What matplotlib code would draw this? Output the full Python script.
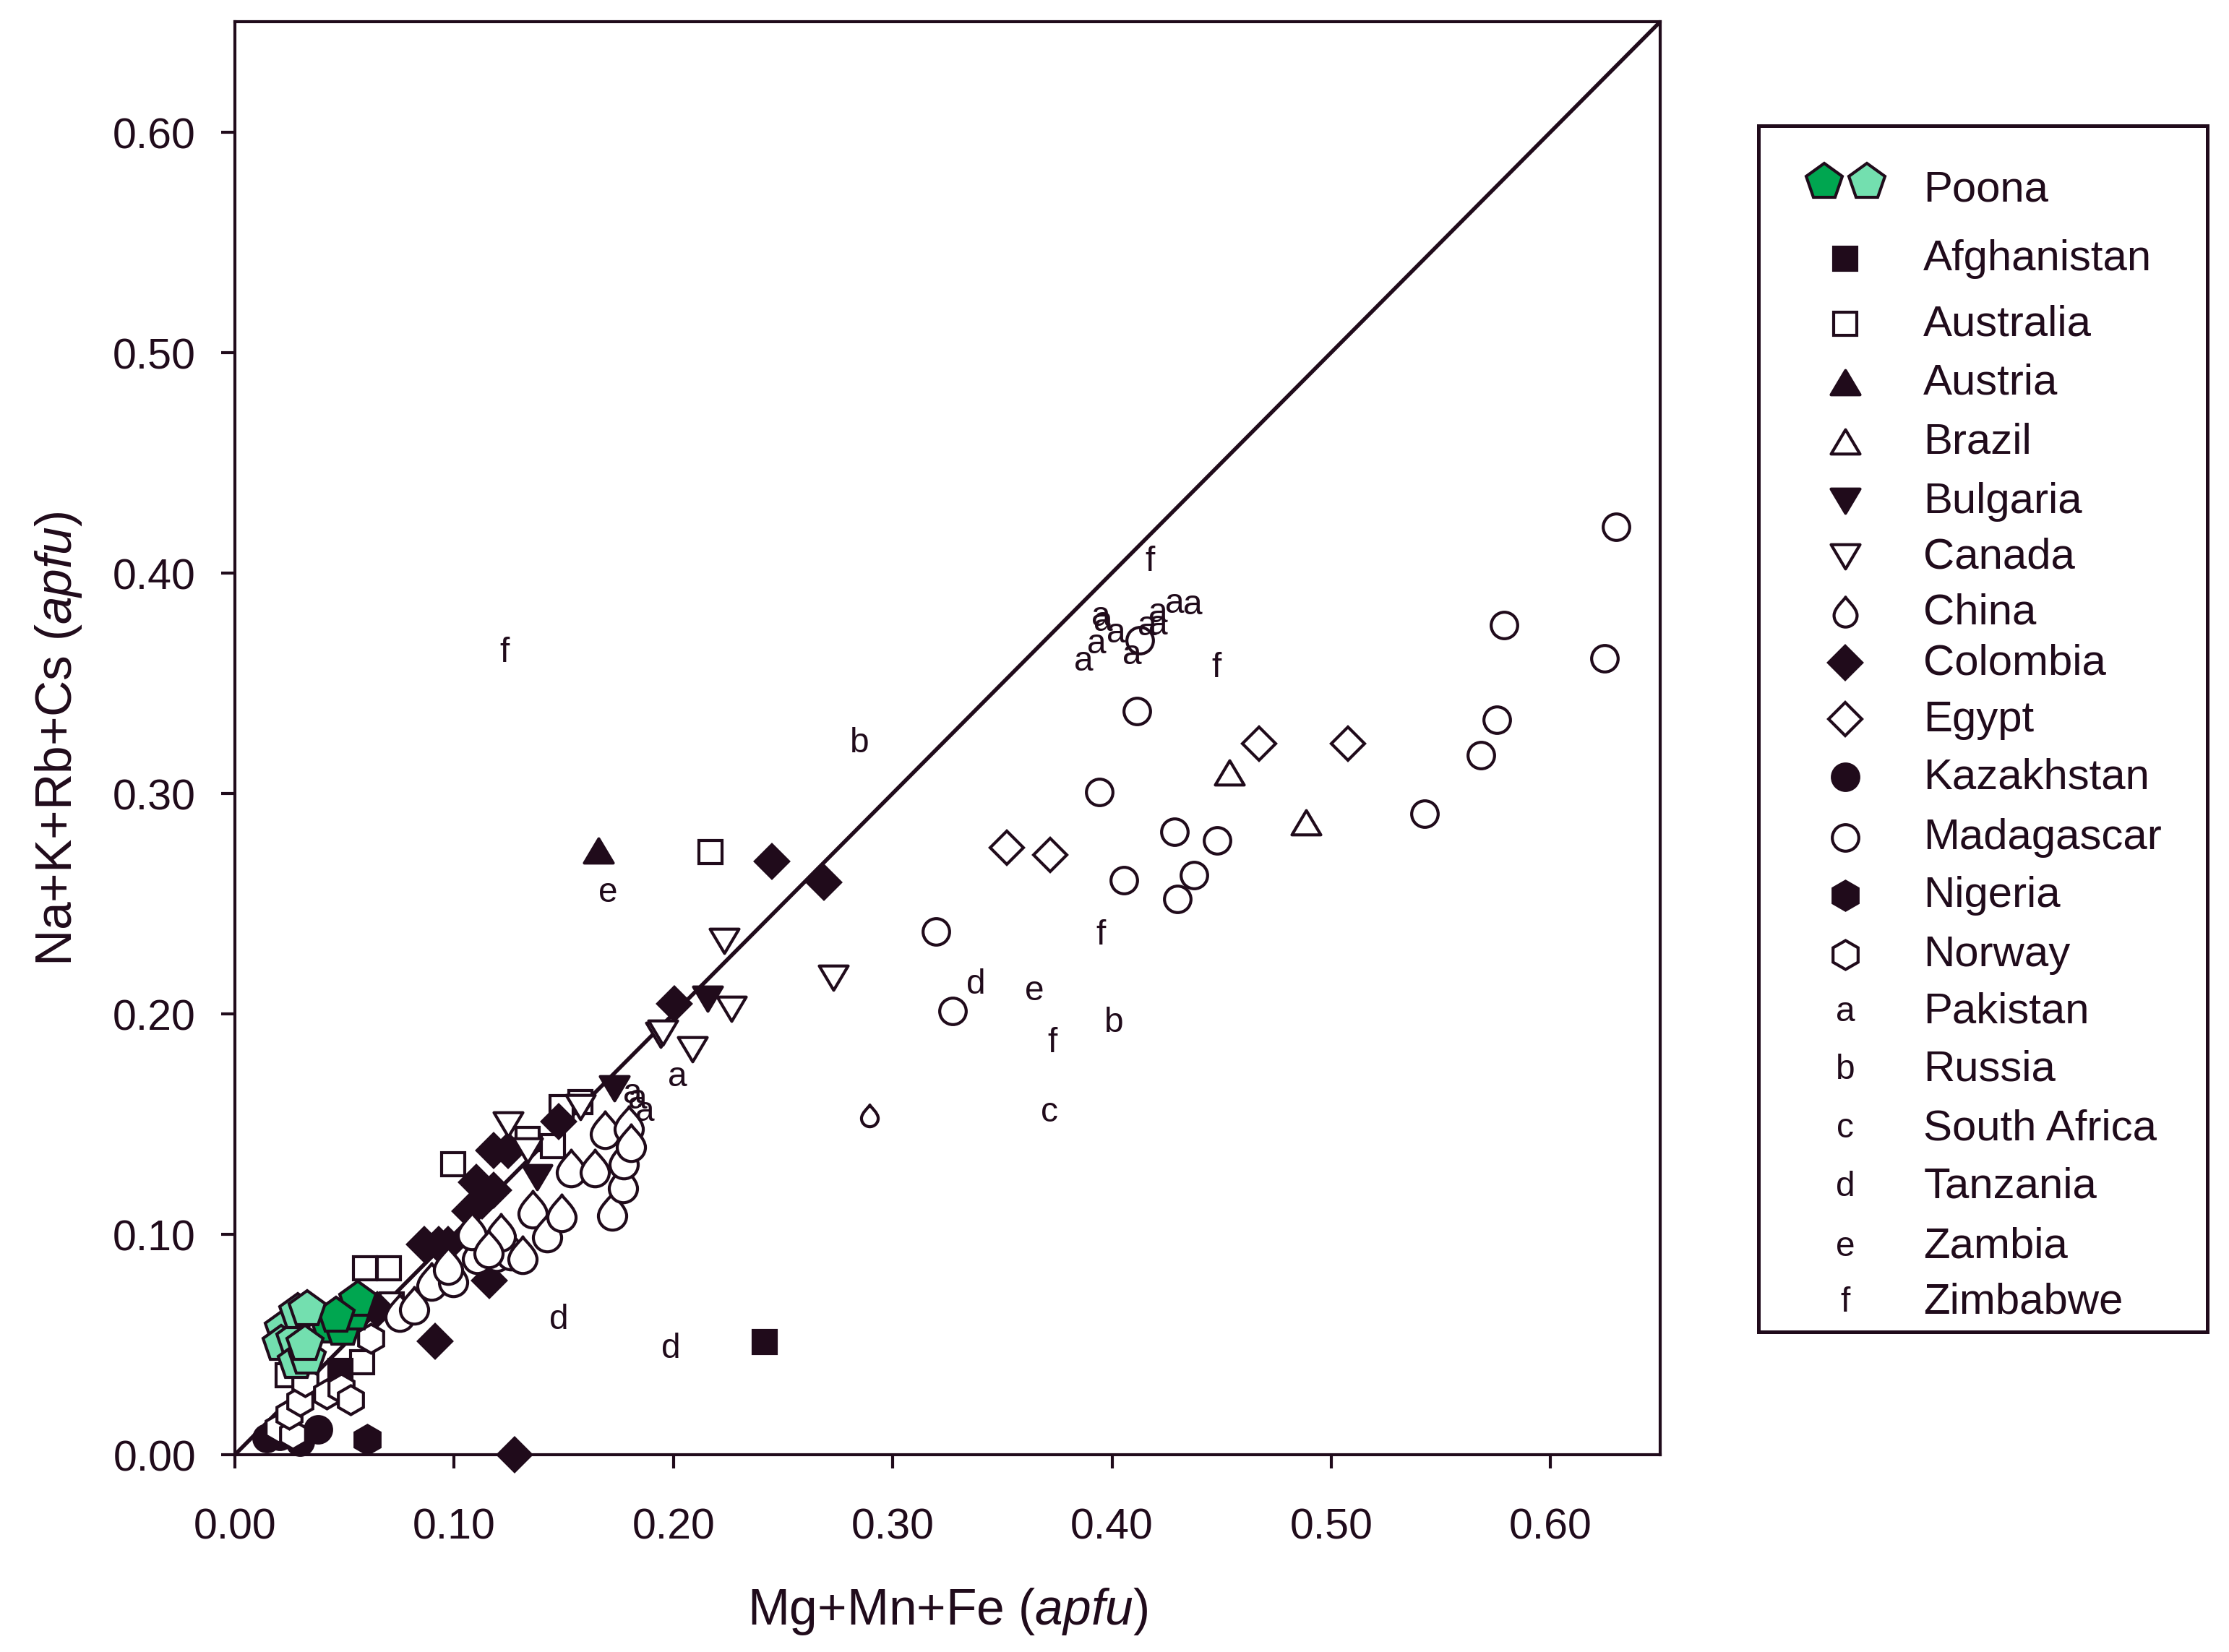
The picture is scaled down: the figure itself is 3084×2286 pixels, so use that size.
import matplotlib.pyplot as plt
from matplotlib.path import Path
from matplotlib.markers import MarkerStyle

plt.rcParams['font.family'] = ['Liberation Sans', 'DejaVu Sans']
plt.rcParams['mathtext.fontset'] = 'custom'
plt.rcParams['mathtext.rm'] = 'Liberation Sans'
plt.rcParams['mathtext.it'] = 'Liberation Sans:italic'

INK = '#200b1b'
DARK_GREEN = '#00a650'
LIGHT_GREEN = '#73dfaf'

# ---- data (apfu) ----
poona_dark_x = [0.043, 0.049, 0.054, 0.056, 0.046]
poona_dark_y = [0.058, 0.057, 0.064, 0.070, 0.063]
poona_light_x = [0.022, 0.021, 0.0275, 0.0286, 0.033, 0.028, 0.033, 0.032]
poona_light_y = [0.057, 0.050, 0.052, 0.0647, 0.066, 0.042, 0.044, 0.050]

afghanistan_x = [0.2415, 0.048]
afghanistan_y = [0.051, 0.038]
australia_x = [0.2168, 0.0996, 0.0593, 0.0703, 0.0714, 0.058, 0.024, 0.145, 0.1576, 0.149, 0.1335]
australia_y = [0.2734, 0.1317, 0.0844, 0.0844, 0.068, 0.042, 0.036, 0.140, 0.160, 0.1575, 0.1433]
austria_x = [0.1658]
austria_y = [0.274]
brazil_x = [0.4535, 0.4884]
brazil_y = [0.3096, 0.2867]
bulgaria_x = [0.2157, 0.1730, 0.1378]
bulgaria_y = [0.2067, 0.1663, 0.1259]
canada_x = [0.2233, 0.2730, 0.2266, 0.2087, 0.1941, 0.1950, 0.1577, 0.1247, 0.1336]
canada_y = [0.2329, 0.2165, 0.2023, 0.1838, 0.1903, 0.1915, 0.1575, 0.1499, 0.1380]
china_x = [0.0753, 0.0818, 0.0895, 0.0994, 0.1104, 0.1082, 0.1192, 0.1258, 0.1313, 0.1357,
           0.1423, 0.1489, 0.1533, 0.1642, 0.1686, 0.1719, 0.1769, 0.1774, 0.1796, 0.1807,
           0.1213, 0.0972, 0.1158, 0.2893]
china_y = [0.0641, 0.0674, 0.0783, 0.0800, 0.0904, 0.1013, 0.0914, 0.0920, 0.0904, 0.1111,
           0.1002, 0.1095, 0.1297, 0.1297, 0.1472, 0.1100, 0.1226, 0.1335, 0.1494, 0.1412,
           0.1007, 0.0854, 0.0931, 0.1537]
china_size = [12.5] * 23 + [7.4]
colombia_x = [0.2450, 0.2687, 0.2005, 0.1478, 0.1180, 0.1247, 0.1100, 0.1126, 0.1180, 0.1070,
              0.0862, 0.0928, 0.0972, 0.1159, 0.0912, 0.1275, 0.065]
colombia_y = [0.2690, 0.2597, 0.2045, 0.1510, 0.1380, 0.1380, 0.1237, 0.1150, 0.1200, 0.1106,
              0.0953, 0.0953, 0.0953, 0.0789, 0.0516, 0.0, 0.066]
egypt_x = [0.3519, 0.3717, 0.4671, 0.5076]
egypt_y = [0.2755, 0.2722, 0.3224, 0.3225]
kazakhstan_x = [0.0145, 0.0205, 0.0295, 0.0380]
kazakhstan_y = [0.0075, 0.0085, 0.0060, 0.0115]
madagascar_x = [0.6298, 0.5787, 0.6246, 0.5755, 0.5684, 0.5427, 0.4115, 0.3941, 0.4285, 0.4478,
                0.4375, 0.4299, 0.4054, 0.3196, 0.3273, 0.4126]
madagascar_y = [0.4208, 0.3763, 0.3611, 0.3334, 0.3174, 0.2908, 0.3373, 0.3005, 0.2826, 0.2786,
                0.2630, 0.2520, 0.2605, 0.2373, 0.2011, 0.3694]
nigeria_x = [0.0602]
nigeria_y = [0.0068]
norway_x = [0.0198, 0.0264, 0.0247, 0.0297, 0.0319, 0.0418, 0.0484, 0.0527, 0.0621]
norway_y = [0.0122, 0.0090, 0.0183, 0.0243, 0.0330, 0.0275, 0.0303, 0.0248, 0.0527]

pakistan_x = [0.387, 0.393, 0.395, 0.396, 0.402, 0.409, 0.416, 0.421, 0.421, 0.4285, 0.4367,
              0.2019, 0.1815, 0.1838, 0.1870]
pakistan_y = [0.360, 0.368, 0.3805, 0.378, 0.373, 0.363, 0.376, 0.382, 0.3766, 0.3864, 0.3858,
              0.1717, 0.1640, 0.1615, 0.1560]
russia_x = [0.2849, 0.4008]
russia_y = [0.3230, 0.1963]
south_africa_x = [0.3713]
south_africa_y = [0.1554]
tanzania_x = [0.1478, 0.1987, 0.3378]
tanzania_y = [0.0614, 0.0482, 0.2135]
zambia_x = [0.1701, 0.3648]
zambia_y = [0.2553, 0.2105]
zimbabwe_x = [0.1231, 0.4174, 0.4476, 0.3950, 0.3728]
zimbabwe_y = [0.3640, 0.4053, 0.3571, 0.2357, 0.1870]

# ---- custom marker shapes ----
drop = Path([(0, 1), (0.08, 0.8), (0.75, 0.3), (0.75, -0.2),
             (0.75, -0.614), (0.414, -0.95), (0, -0.95),
             (-0.414, -0.95), (-0.75, -0.614), (-0.75, -0.2),
             (-0.75, 0.3), (-0.08, 0.8), (0, 1), (0, 1)],
            [Path.MOVETO] + [Path.CURVE4] * 12 + [Path.CLOSEPOLY])
tri_up = Path([(0, 0.84), (-1, -0.84), (1, -0.84), (0, 0.84)], closed=True)
tri_down = Path([(0, -0.84), (-1, 0.84), (1, 0.84), (0, -0.84)], closed=True)
DROP = MarkerStyle(drop, joinstyle='miter')
UP = MarkerStyle(tri_up, joinstyle='miter')
DOWN = MarkerStyle(tri_down, joinstyle='miter')

styles = {
    'Afghanistan': dict(marker='s', ms=7.6, mfc=INK),
    'Australia': dict(marker='s', ms=7.6, mfc='white'),
    'Austria': dict(marker=UP, ms=9.6, mfc=INK),
    'Brazil': dict(marker=UP, ms=9.6, mfc='white'),
    'Bulgaria': dict(marker=DOWN, ms=9.6, mfc=INK),
    'Canada': dict(marker=DOWN, ms=9.6, mfc='white'),
    'China': dict(marker=DROP, ms=10.2, mfc='white'),
    'Colombia': dict(marker='D', ms=7.9, mfc=INK),
    'Egypt': dict(marker='D', ms=7.7, mfc='white'),
    'Kazakhstan': dict(marker='o', ms=8.8, mfc=INK),
    'Madagascar': dict(marker='o', ms=8.8, mfc='white'),
    'Nigeria': dict(marker='h', ms=9.6, mfc=INK),
    'Norway': dict(marker='h', ms=9.6, mfc='white'),
}

fig = plt.figure(figsize=(10.28, 7.6233), dpi=300)
ax = fig.add_axes([0.1054, 0.1194, 0.6394, 0.867])

ax.plot([0, 0.65], [0, 0.65], color=INK, lw=1.3, zorder=1)

def pts(name, x, y, z=3):
    ax.plot(x, y, ls='none', mec=INK, mew=1.0, zorder=z, clip_on=False, **styles[name])

pts('Australia', australia_x, australia_y)
pts('Afghanistan', afghanistan_x, afghanistan_y)
pts('Austria', austria_x, austria_y)
pts('Brazil', brazil_x, brazil_y)
pts('Colombia', colombia_x, colombia_y)
pts('Bulgaria', bulgaria_x, bulgaria_y)
pts('Canada', canada_x, canada_y)
for cx, cy, cs in zip(china_x, china_y, china_size):
    ax.plot(cx, cy, ls='none', marker=DROP, ms=cs, mfc='white', mec=INK, mew=1.0, zorder=3)
pts('Egypt', egypt_x, egypt_y)
pts('Kazakhstan', kazakhstan_x, kazakhstan_y)
pts('Madagascar', madagascar_x, madagascar_y)
pts('Nigeria', nigeria_x, nigeria_y)
pts('Norway', norway_x, norway_y)

letters = [('a', pakistan_x, pakistan_y), ('b', russia_x, russia_y),
           ('c', south_africa_x, south_africa_y), ('d', tanzania_x, tanzania_y),
           ('e', zambia_x, zambia_y), ('f', zimbabwe_x, zimbabwe_y)]
for ch, xs, ys in letters:
    for lx, ly in zip(xs, ys):
        ax.text(lx, ly, ch, ha='center', va='center', fontsize=11.5, color=INK, zorder=4)

ax.plot(poona_dark_x, poona_dark_y, ls='none', marker='p', ms=12.5, mfc=DARK_GREEN,
        mec=INK, mew=1.0, zorder=5)
ax.plot(poona_light_x, poona_light_y, ls='none', marker='p', ms=12.5, mfc=LIGHT_GREEN,
        mec=INK, mew=1.0, zorder=5)

ax.set_xlim(0, 0.65)
ax.set_ylim(0, 0.65)
ticks = [0, 0.1, 0.2, 0.3, 0.4, 0.5, 0.6]
ax.set_xticks(ticks)
ax.set_yticks(ticks)
ax.set_xticklabels([f'{t:.2f}' for t in ticks])
ax.set_yticklabels([f'{t:.2f}' for t in ticks])
ax.tick_params(direction='out', length=4.5, width=1.0, colors=INK, labelsize=14.2)
ax.tick_params(axis='x', pad=13)
ax.tick_params(axis='y', pad=8.5)
for s in ax.spines.values():
    s.set_linewidth(1.0)
    s.set_color(INK)
ax.set_xlabel('Mg+Mn+Fe ($\\mathit{apfu}$)', fontsize=16.7, color=INK, labelpad=12.8)
ax.set_ylabel('Na+K+Rb+Cs ($\\mathit{apfu}$)', fontsize=16.7, color=INK, labelpad=9.5)

# ---- legend box ----
lax = fig.add_axes([0.789, 0.1937, 0.2014, 0.7298])
lax.set_xlim(0, 1)
lax.set_ylim(0, 1)
lax.set_xticks([])
lax.set_yticks([])
for s in lax.spines.values():
    s.set_linewidth(1.2)
    s.set_color(INK)

names = ['Poona', 'Afghanistan', 'Australia', 'Austria', 'Brazil', 'Bulgaria', 'Canada',
         'China', 'Colombia', 'Egypt', 'Kazakhstan', 'Madagascar', 'Nigeria', 'Norway',
         'Pakistan', 'Russia', 'South Africa', 'Tanzania', 'Zambia', 'Zimbabwe']
row_y = [0.947, 0.890, 0.836, 0.787, 0.738, 0.689, 0.643, 0.597, 0.555, 0.508,
         0.460, 0.410, 0.362, 0.313, 0.266, 0.218, 0.169, 0.121, 0.071, 0.025]
row_letters = {'Pakistan': 'a', 'Russia': 'b', 'South Africa': 'c',
               'Tanzania': 'd', 'Zambia': 'e', 'Zimbabwe': 'f'}
for name, yy in zip(names, row_y):
    if name == 'Poona':
        lax.plot([0.146], [yy + 0.006], ls='none', marker='p', ms=12.5, mfc=DARK_GREEN,
                 mec=INK, mew=1.0, clip_on=False)
        lax.plot([0.241], [yy + 0.006], ls='none', marker='p', ms=12.5, mfc=LIGHT_GREEN,
                 mec=INK, mew=1.0, clip_on=False)
    elif name in row_letters:
        lax.text(0.193, yy, row_letters[name], ha='center', va='center', fontsize=11.5,
                 color=INK)
    else:
        lax.plot([0.193], [yy], ls='none', mec=INK, mew=1.0, clip_on=False, **styles[name])
    lax.text(0.367, yy, name, ha='left', va='center', fontsize=14.4, color=INK)

fig.savefig('out.png', dpi=300)
